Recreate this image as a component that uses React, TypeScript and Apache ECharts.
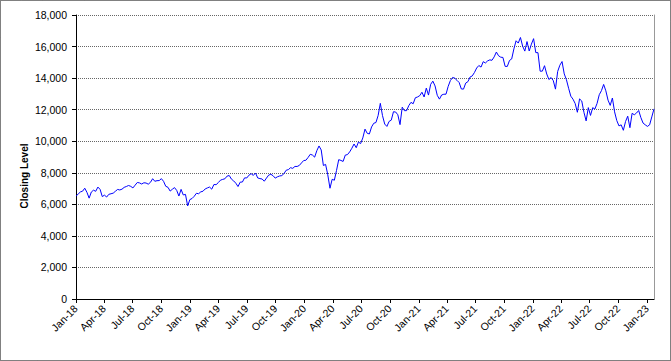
import React, { useEffect, useRef } from "react";
import * as echarts from "echarts";

// Weekly closing levels (one value per week, weeks starting Monday 2018-01-01)
const values2018 = [
  6520, 6653, 6784, 6834, 7022, 6760, 6392, 6779, 6897, 6826, 7094, 6949, 6492, 6581,
  6463, 6636, 6670, 6710, 6829, 6945, 6911, 6960, 7075, 7130, 7194, 7140, 7040,
  7215, 7384, 7359, 7287, 7365, 7351, 7278, 7393, 7624, 7461, 7499, 7505, 7627,
  7456, 7144, 7080, 6840, 6955, 7060, 6882, 6526, 6949, 6594, 6630, 5900, 6300,
];
const values2019 = [
  6369, 6510, 6700, 6672, 6791, 6830, 6975, 7040, 7095, 6960, 7257, 7245, 7378,
  7533, 7580, 7620, 7788, 7827, 7597, 7486, 7340, 7127, 7407, 7414, 7677, 7671,
  7848, 7942, 7835, 7985, 7671, 7631, 7606, 7465, 7663, 7852, 7905, 7815, 7661,
  7746, 7796, 7822, 7951, 8161, 8200, 8323, 8280, 8403, 8399, 8466, 8625, 8777,
];
const values2020 = [
  8793, 8969, 9171, 9122, 8991, 9402, 9700, 9446, 8461, 8531, 7875, 7020, 7587,
  7528, 8153, 8832, 8783, 8718, 9121, 9152, 9325, 9555, 9824, 9589, 9946, 9849,
  10208, 10767, 10503, 10461, 10905, 11139, 11185, 11631, 12400, 11622, 11088, 10938, 11255,
  11337, 11868, 11852, 11677, 11052, 12159, 11937, 11939, 12258, 12464, 12375, 12755, 12804, 12888,
];
const values2021 = [
  13105, 12804, 13367, 12925, 13608, 13808, 13503, 12909, 12668, 12930, 12978, 12982,
  13480, 13845, 14041, 13999, 13860, 13720, 13311, 13303, 13686, 13774, 14069, 14140, 14360,
  14639, 14799, 14698, 15042, 14959, 15090, 15155, 15130, 15347, 15652, 15417, 15326, 15309,
  14745, 14740, 15120, 15216, 15850, 16367, 16220, 16574, 16026, 15712, 16316, 15719, 16154, 16500,
];
const values2022 = [
  15617, 15612, 14439, 14441, 14787, 14261, 13911, 14037, 13840, 13301, 14420, 14817,
  15050, 14266, 13897, 13357, 12855, 12665, 12387, 11835, 12682, 12547, 11830, 11289, 12130,
  11636, 12125, 12042, 12396, 12947, 13206, 13600, 13194, 12605, 12271, 12739, 11862, 11311, 10971,
  11039, 10692, 11247, 11587, 10857, 11767, 11677, 11786, 11947, 11500, 11151, 11040, 10940,
];
const values2023 = [11040, 11542, 12050];

const firstWeek = "2018-01-01";
const tickDates = [
  "2018-01-01", "2018-04-01", "2018-07-01", "2018-10-01",
  "2019-01-01", "2019-04-01", "2019-07-01", "2019-10-01",
  "2020-01-01", "2020-04-01", "2020-07-01", "2020-10-01",
  "2021-01-01", "2021-04-01", "2021-07-01", "2021-10-01",
  "2022-01-01", "2022-04-01", "2022-07-01", "2022-10-01",
  "2023-01-01",
];
const tickLabels = [
  "Jan-18", "Apr-18", "Jul-18", "Oct-18",
  "Jan-19", "Apr-19", "Jul-19", "Oct-19",
  "Jan-20", "Apr-20", "Jul-20", "Oct-20",
  "Jan-21", "Apr-21", "Jul-21", "Oct-21",
  "Jan-22", "Apr-22", "Jul-22", "Oct-22",
  "Jan-23",
];
const yAxisTitle = "Closing Level";

const DAY = 86400000;
const ts = (s: string) => Date.parse(s + "T00:00:00Z");

export default function App() {
  const ref = useRef<HTMLDivElement>(null);
  useEffect(() => {
    if (!ref.current) return;
    const chart = echarts.init(ref.current, undefined, { renderer: "svg" });
    const allValues = [
      ...values2018, ...values2019, ...values2020,
      ...values2021, ...values2022, ...values2023,
    ];
    const start = ts(firstWeek);
    const data = allValues.map((v, i) => [start + i * 7 * DAY, v]);
    const tickTs = tickDates.map(ts);
    const labelMap = new Map<number, string>();
    tickTs.forEach((t, i) => labelMap.set(t, tickLabels[i]));
    const font = "'Liberation Sans', Arial, sans-serif";

    chart.setOption({
      animation: false,
      backgroundColor: "#ffffff",
      grid: { left: 76, right: 17, top: 15, bottom: 62, containLabel: false },
      xAxis: {
        type: "value",
        min: start,
        max: data[data.length - 1][0],
        axisLine: { show: true, onZero: false, lineStyle: { color: "#000", width: 1 } },
        axisTick: {
          show: true,
          length: 4,
          customValues: tickTs,
          lineStyle: { color: "#000" },
        },
        axisLabel: {
          customValues: tickTs,
          rotate: 45,
          margin: 8,
          color: "#000",
          fontSize: 10.5,
          fontFamily: font,
          formatter: (v: number) => labelMap.get(v) ?? "",
        },
        splitLine: { show: false },
      },
      yAxis: [
        {
          type: "value",
          min: 0,
          max: 18000,
          interval: 2000,
          axisLine: { show: true, lineStyle: { color: "#000", width: 1 } },
          axisTick: { show: true, length: 4, lineStyle: { color: "#000" } },
          axisLabel: {
            margin: 9,
            color: "#000",
            fontSize: 10.5,
            fontFamily: font,
            formatter: (v: number) => v.toLocaleString("en-US"),
          },
          splitLine: {
            show: true,
            lineStyle: { color: "#666", type: [1, 1], width: 1 },
          },
        },
        {
          type: "value",
          position: "right",
          min: 0,
          max: 18000,
          interval: 2000,
          axisLine: { show: true, lineStyle: { color: "#999", width: 1 } },
          axisTick: { show: false },
          axisLabel: { show: false },
          splitLine: { show: false },
        },
      ],
      series: [
        {
          type: "line",
          data,
          yAxisIndex: 0,
          showSymbol: false,
          symbol: "none",
          lineStyle: { color: "#0000ff", width: 1 },
        },
      ],
      graphic: [
        {
          type: "rect",
          shape: { x: 0.5, y: 0.5, width: 670, height: 360 },
          style: { fill: "none", stroke: "#000", lineWidth: 1, lineDash: [1, 1] },
          silent: true,
        },
        {
          type: "text",
          x: 24,
          y: 176,
          rotation: Math.PI / 2,
          style: {
            text: yAxisTitle,
            fontSize: 10,
            fontWeight: "bold",
            fontFamily: font,
            fill: "#000",
            textAlign: "center",
            textVerticalAlign: "middle",
          },
        },
      ],
    });
    return () => chart.dispose();
  }, []);
  return (
    <div
      ref={ref}
      style={{ position: "fixed", left: 0, top: 0, width: 671, height: 361 }}
    />
  );
}
